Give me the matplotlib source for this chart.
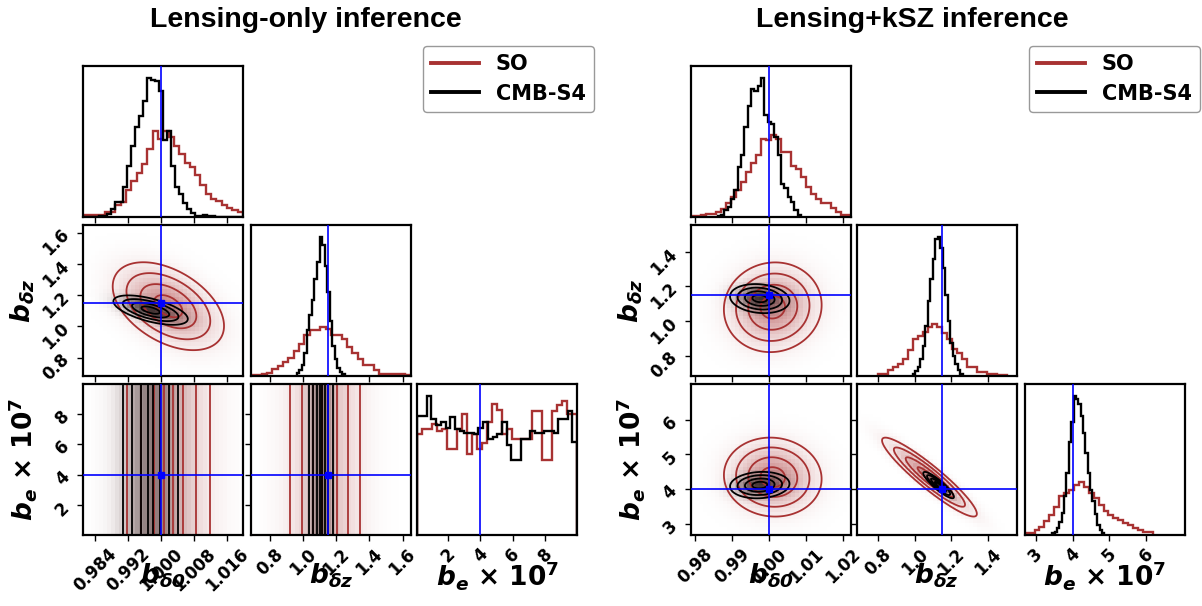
import numpy as np
import matplotlib
matplotlib.use("Agg")
import matplotlib.pyplot as plt
from matplotlib.colors import LinearSegmentedColormap, to_rgba
from matplotlib.lines import Line2D

plt.rcParams['font.family'] = ['DejaVu Sans']
plt.rcParams['font.weight'] = 'bold'
plt.rcParams['mathtext.fontset'] = 'dejavusans'

SO_COLOR = '#a83232'
S4_COLOR = 'black'
TRUTH_COLOR = '#0000ff'

labels = [r'$\mathbfit{b}_{\mathbfit{\delta 0}}$',
          r'$\mathbfit{b}_{\mathbfit{\delta z}}$',
          r'$\mathbfit{b_e}\ \mathbf{\times\ 10^7}$']
truths = [1.0, 1.15, 4.0]

# ---- Lensing-only ----
left_ranges = [(0.9812, 1.0199), (0.683, 1.650), (0.10, 9.97)]
left_ticks = [[0.984, 0.992, 1.000, 1.008, 1.016], [0.8, 1.0, 1.2, 1.4, 1.6], [2, 4, 6, 8]]
left_ticklabels = [['0.984', '0.992', '1.000', '1.008', '1.016'],
                   ['0.8', '1.0', '1.2', '1.4', '1.6'], ['2', '4', '6', '8']]

left_so_d0 = [0.01, 0.01, 0.015, 0.015, 0.03, 0.035, 0.08, 0.10, 0.18, 0.24, 0.29, 0.35, 0.45, 0.57, 0.52,
              0.57, 0.53, 0.47, 0.42, 0.36, 0.33, 0.28, 0.21, 0.155, 0.12, 0.105, 0.08, 0.057, 0.045, 0.035]
left_so_d0_range = (0.9812, 1.0199)
left_s4_d0 = [0, 0, 0.003, 0.003, 0.005, 0.008, 0.02, 0.055, 0.1, 0.1, 0.2, 0.34, 0.47, 0.6, 0.67, 0.77, 0.92,
              0.91, 0.9, 0.84, 0.51, 0.57, 0.34, 0.2, 0.155, 0.095, 0.05, 0.025, 0.005, 0.005, 0.01, 0.008,
              0.004, 0.002, 0, 0, 0, 0, 0, 0]
left_s4_d0_range = (0.9812, 1.0199)

left_so_dz = [0.005, 0.005, 0.01, 0.02, 0.044, 0.067, 0.089, 0.12, 0.167, 0.21, 0.27, 0.30, 0.30, 0.32, 0.31,
              0.27, 0.27, 0.24, 0.19, 0.15, 0.11, 0.07, 0.07, 0.04, 0.015, 0.015, 0.015, 0.015, 0.01, 0.005]
left_so_dz_range = (0.683, 1.650)
left_s4_dz = [0.022, 0.04, 0.07, 0.15, 0.30, 0.40, 0.50, 0.64, 0.75, 0.91, 0.86, 0.72, 0.55, 0.36, 0.20,
              0.11, 0.05, 0.025, 0.01]
left_s4_dz_range = (0.959, 1.252)

left_so_be = [0.66, 0.69, 0.69, 0.725, 0.68, 0.69, 0.56, 0.56, 0.69, 0.79, 0.53, 0.66, 0.56, 0.60, 0.74, 0.86,
              0.82, 0.66, 0.69, 0.63, 0.63, 0.63, 0.63, 0.81, 0.81, 0.49, 0.49, 0.81, 0.85, 0.88, 0.79, 0.79]
left_so_be_range = (0.10, 9.97)
left_s4_be = [0.78, 0.78, 0.91, 0.76, 0.72, 0.74, 0.70, 0.77, 0.69, 0.68, 0.67, 0.67, 0.66, 0.70, 0.74, 0.63,
              0.64, 0.66, 0.74, 0.59, 0.49, 0.49, 0.63, 0.63, 0.68, 0.67, 0.67, 0.68, 0.68, 0.67, 0.76, 0.76,
              0.81, 0.61]
left_s4_be_range = (0.10, 9.97)

# 2D posterior summaries (b_e is prior-limited -> flat)
left_so_mean = [1.0018, 1.13, 5.0]
left_so_sigma = [0.0068, 0.142, None]
left_so_corr = [[1, -0.45, 0], [-0.45, 1, 0], [0, 0, 1]]
left_s4_mean = [0.9975, 1.105, 5.0]
left_s4_sigma = [0.0045, 0.047, None]
left_s4_corr = [[1, -0.6, 0], [-0.6, 1, 0], [0, 0, 1]]

# ---- Lensing+kSZ ----
right_ranges = [(0.979, 1.022), (0.683, 1.555), (2.70, 7.04)]
right_ticks = [[0.98, 0.99, 1.00, 1.01, 1.02], [0.8, 1.0, 1.2, 1.4], [3, 4, 5, 6]]
right_ticklabels = [['0.98', '0.99', '1.00', '1.01', '1.02'], ['0.8', '1.0', '1.2', '1.4'],
                    ['3', '4', '5', '6']]

right_so_d0 = [0.005, 0.007, 0.01, 0.02, 0.02, 0.03, 0.055, 0.09, 0.13, 0.18, 0.23, 0.30, 0.36, 0.41, 0.52,
               0.51, 0.545, 0.52, 0.43, 0.43, 0.34, 0.32, 0.265, 0.20, 0.155, 0.12, 0.09, 0.09, 0.057, 0.03,
               0.015, 0.01]
right_so_d0_range = (0.979, 1.022)
right_s4_d0 = [0.005, 0.015, 0.044, 0.066, 0.12, 0.18, 0.33, 0.41, 0.6, 0.74, 0.85, 0.84, 0.87, 0.92, 0.68,
               0.63, 0.62, 0.53, 0.41, 0.22, 0.19, 0.13, 0.10, 0.044, 0.015]
right_s4_d0_range = (0.9862, 1.0086)

right_so_dz = [0.01, 0.015, 0.037, 0.06, 0.08, 0.11, 0.17, 0.24, 0.26, 0.29, 0.32, 0.34, 0.32, 0.28, 0.24,
               0.18, 0.15, 0.11, 0.06, 0.06, 0.026, 0.026, 0.015, 0.015, 0.008, 0.008]
right_so_dz_range = (0.800, 1.501)
right_s4_dz = [0.015, 0.03, 0.06, 0.11, 0.2, 0.33, 0.49, 0.64, 0.77, 0.9, 0.91, 0.84, 0.71, 0.53, 0.36,
               0.22, 0.13, 0.08, 0.04, 0.015]
right_s4_dz_range = (0.990, 1.263)

right_so_be = [0.01, 0.01, 0.026, 0.048, 0.09, 0.126, 0.18, 0.25, 0.27, 0.29, 0.32, 0.34, 0.31, 0.27, 0.24,
               0.19, 0.15, 0.127, 0.11, 0.093, 0.075, 0.06, 0.045, 0.031, 0.016, 0.016]
right_so_be_range = (2.70, 6.18)
right_s4_be = [0.01, 0.015, 0.04, 0.08, 0.14, 0.25, 0.40, 0.6, 0.73, 0.9, 0.88, 0.85, 0.77, 0.66, 0.53,
               0.40, 0.29, 0.22, 0.13, 0.06, 0.03, 0.01]
right_s4_be_range = (3.45, 4.86)

right_so_mean = [1.001, 1.08, 4.35]
right_so_sigma = [0.0066, 0.13, 0.57]
right_so_corr = [[1, 0.05, -0.05], [0.05, 1, -0.93], [-0.05, -0.93, 1]]
right_s4_mean = [0.9975, 1.13, 4.12]
right_s4_sigma = [0.004, 0.042, 0.19]
right_s4_corr = [[1, -0.15, 0.1], [-0.15, 1, -0.9], [0.1, -0.9, 1]]

contour_masses = 1.0 - np.exp(-0.5 * np.arange(0.5, 2.1, 0.5) ** 2)

W = 1202.0
H = 606.0
col_x = {'left': [83.3, 251.0, 417.3], 'right': [691.0, 856.7, 1024.7]}
row_y = [66.0, 225.0, 383.5]
AX_W, AX_H = 159.8, 151.0


def gauss2d(X, Y, mx, my, sx, sy, rho):
    u = (X - mx) / sx
    if sy is None:
        return np.exp(-0.5 * u ** 2)
    v = (Y - my) / sy
    return np.exp(-(u ** 2 - 2 * rho * u * v + v ** 2) / (2 * (1 - rho ** 2)))


def mass_levels(D, masses):
    flat = np.sort(D.ravel())[::-1]
    cum = np.cumsum(flat) / flat.sum()
    vals = [flat[min(np.searchsorted(cum, m), len(flat) - 1)] for m in masses]
    return sorted(set(vals))


def alpha_cmap(color, amax):
    r, g, b, _ = to_rgba(color)
    return LinearSegmentedColormap.from_list('a', [(r, g, b, 0.0), (r, g, b, amax)])


def draw_2d(ax, xr, yr, i, j, mean, sigma, corr, color, amax):
    sy = sigma[i]
    if sy is None:
        amax = amax * 0.55
    # coarse grid for the pixel shading, fine grid for the contour lines
    xe = np.linspace(xr[0], xr[1], 41)
    ye = np.linspace(yr[0], yr[1], 41)
    xc = 0.5 * (xe[1:] + xe[:-1])
    yc = 0.5 * (ye[1:] + ye[:-1])
    Xc, Yc = np.meshgrid(xc, yc)
    Dc = gauss2d(Xc, Yc, mean[j], mean[i], sigma[j], sy, corr[j][i])
    ax.pcolormesh(xe, ye, Dc, cmap=alpha_cmap(color, amax), vmin=0, vmax=1,
                  shading='flat', rasterized=True, zorder=1)
    xf = np.linspace(xr[0], xr[1], 250)
    yf = np.linspace(yr[0], yr[1], 250)
    Xf, Yf = np.meshgrid(xf, yf)
    Df = gauss2d(Xf, Yf, mean[j], mean[i], sigma[j], sy, corr[j][i])
    lev = mass_levels(Df, contour_masses)
    ax.contour(Xf, Yf, Df, levels=lev, colors=[color], linewidths=1.3, zorder=2)


def draw_hist(ax, vals, rng, color):
    edges = np.linspace(rng[0], rng[1], len(vals) + 1)
    ax.stairs(vals, edges, color=color, linewidth=1.7, zorder=2)


def corner(side, title, title_x, ranges, ticks, ticklabels, hists, so_stats, s4_stats):
    fig.text(title_x / W, 1 - 20 / H, title, ha='center', va='center', fontsize=20.5,
             fontweight='bold', family='Liberation Sans')
    for i in range(3):
        for j in range(i + 1):
            x0 = col_x[side][j]
            y0 = row_y[i]
            ax = fig.add_axes([x0 / W, 1 - (y0 + AX_H) / H, AX_W / W, AX_H / H])
            for sp in ax.spines.values():
                sp.set_linewidth(1.6)
            ax.set_xlim(ranges[j])
            ax.set_xticks(ticks[j])
            if i == j:
                so_vals, so_rng, s4_vals, s4_rng = hists[i]
                draw_hist(ax, so_vals, so_rng, SO_COLOR)
                draw_hist(ax, s4_vals, s4_rng, S4_COLOR)
                ax.set_ylim(0, 1.09 * max(max(so_vals), max(s4_vals)))
                ax.set_yticks([])
                ax.axvline(truths[j], color=TRUTH_COLOR, lw=1.2, zorder=3)
            else:
                ax.set_ylim(ranges[i])
                ax.set_yticks(ticks[i])
                draw_2d(ax, ranges[j], ranges[i], i, j, *so_stats, SO_COLOR, 0.55)
                draw_2d(ax, ranges[j], ranges[i], i, j, *s4_stats, S4_COLOR, 0.7)
                ax.axvline(truths[j], color=TRUTH_COLOR, lw=1.2, zorder=3)
                ax.axhline(truths[i], color=TRUTH_COLOR, lw=1.2, zorder=3)
                ax.plot(truths[j], truths[i], 's', color=TRUTH_COLOR, ms=4, zorder=4)
                ax.set_xlim(ranges[j])
                ax.set_ylim(ranges[i])
            ax.tick_params(direction='out', length=4, width=1, labelsize=12)
            if i == 2:
                ax.set_xticklabels(ticklabels[j], rotation=45, fontweight='bold')
                ax.set_xlabel(labels[j], fontsize=19, va='center')
                ax.xaxis.set_label_coords(0.5, -0.27)
            else:
                ax.set_xticklabels([])
            if j == 0 and i > 0:
                ax.set_yticklabels(ticklabels[i], rotation=45, fontweight='bold')
                ax.set_ylabel(labels[i], fontsize=19, va='center', ha='center')
                ax.yaxis.set_label_coords(-0.38, 0.5)
            elif i != j:
                ax.set_yticklabels([])


fig = plt.figure(figsize=(W / 100, H / 100), dpi=100)

corner('left', 'Lensing-only inference', 306.0, left_ranges, left_ticks, left_ticklabels,
       [(left_so_d0, left_so_d0_range, left_s4_d0, left_s4_d0_range),
        (left_so_dz, left_so_dz_range, left_s4_dz, left_s4_dz_range),
        (left_so_be, left_so_be_range, left_s4_be, left_s4_be_range)],
       (left_so_mean, left_so_sigma, left_so_corr), (left_s4_mean, left_s4_sigma, left_s4_corr))

corner('right', 'Lensing+kSZ inference', 912.0, right_ranges, right_ticks, right_ticklabels,
       [(right_so_d0, right_so_d0_range, right_s4_d0, right_s4_d0_range),
        (right_so_dz, right_so_dz_range, right_s4_dz, right_s4_dz_range),
        (right_so_be, right_so_be_range, right_s4_be, right_s4_be_range)],
       (right_so_mean, right_so_sigma, right_so_corr), (right_s4_mean, right_s4_sigma, right_s4_corr))

handles = [Line2D([], [], color=SO_COLOR, lw=2.8), Line2D([], [], color=S4_COLOR, lw=2.8)]
for lx in [423.0, 1029.0]:
    fig.legend(handles, ['SO', 'CMB-S4'], loc='upper left', bbox_to_anchor=(lx / W, 1 - 46 / H),
               borderaxespad=0, prop={'weight': 'bold', 'size': 15}, handlelength=2.3,
               labelspacing=0.45, edgecolor='#999999', framealpha=1)

fig.savefig('out.png', dpi=100)
